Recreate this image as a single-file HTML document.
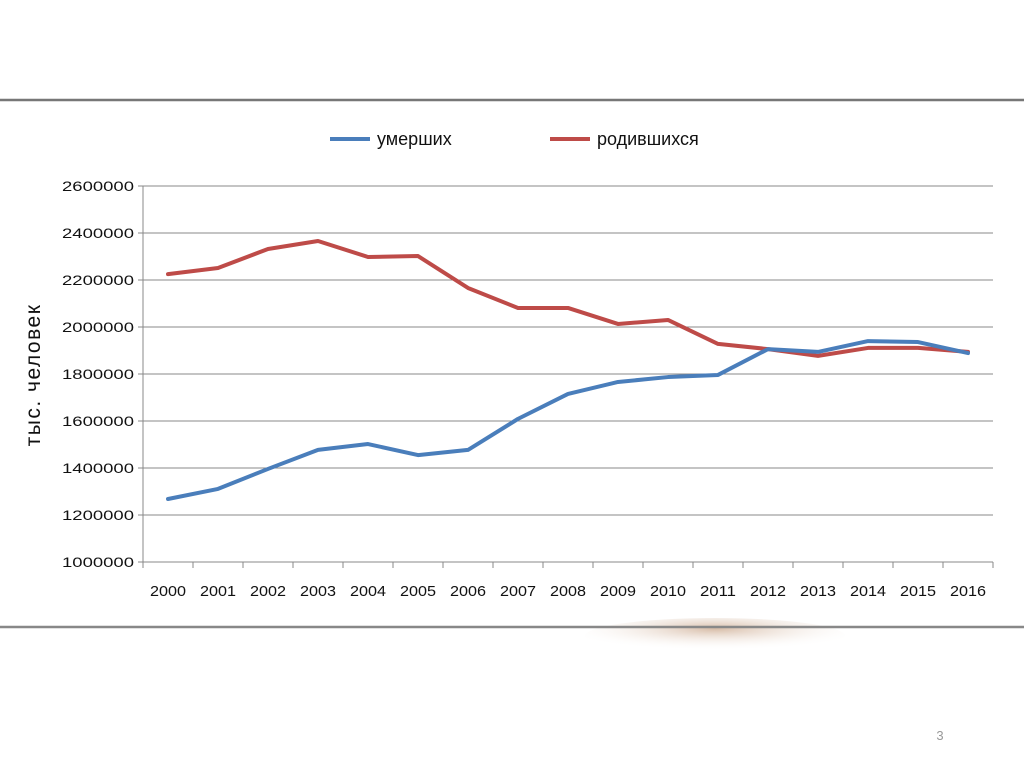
<!DOCTYPE html>
<html><head><meta charset="utf-8"><style>
body{margin:0;background:#fff;width:1024px;height:767px;overflow:hidden;font-family:"Liberation Sans","DejaVu Sans",sans-serif}
</style></head><body>
<svg width="1024" height="767" xmlns="http://www.w3.org/2000/svg">
<defs><radialGradient id="sm" cx="0.5" cy="0.3" r="0.6"><stop offset="0" stop-color="#b07a50" stop-opacity="0.5"/><stop offset="1" stop-color="#fff" stop-opacity="0"/></radialGradient></defs>
<line x1="0" y1="100" x2="1024" y2="100" stroke="#777" stroke-width="2.5"/>
<ellipse cx="715" cy="636" rx="130" ry="18" fill="url(#sm)"/>
<line x1="0" y1="627" x2="1024" y2="627" stroke="#888" stroke-width="2.5"/>
<text x="940" y="740" font-size="13" fill="#999" text-anchor="middle">3</text>
<g id="chart"></g>
</svg>
<script>
const categories=["2000","2001","2002","2003","2004","2005","2006","2007","2008","2009","2010","2011","2012","2013","2014","2015","2016"];
const deaths=[1268000,1311000,1396000,1477000,1502000,1455000,1477000,1609000,1715000,1766000,1787000,1796000,1906000,1894000,1940000,1936000,1889000];
const births=[2225000,2251000,2332000,2366000,2298000,2302000,2166000,2081000,2081000,2013000,2030000,1928000,1906000,1877000,1911000,1911000,1894000];
const yTicks=[1000000,1200000,1400000,1600000,1800000,2000000,2200000,2400000,2600000];
const NS="http://www.w3.org/2000/svg";
const g=document.getElementById('chart');
const L=143,R=993,T=186,B=562,yMin=1000000,yMax=2600000;
const bw=(R-L)/categories.length;
const xS=i=>L+bw*(i+0.5);
const yS=v=>B-(v-yMin)/(yMax-yMin)*(B-T);
function mk(t,a){const e=document.createElementNS(NS,t);for(const k in a)e.setAttribute(k,a[k]);g.appendChild(e);return e;}
yTicks.forEach(v=>{
 const y=yS(v);
 const ln=mk('line',{x1:L-5,x2:R,y1:y,y2:y,stroke:'#8a8a8a','stroke-width':1});
 
 
 const t=mk('text',{x:L-9,y:y+5,'text-anchor':'end','font-size':14,fill:'#111',textLength:72,lengthAdjust:'spacingAndGlyphs'});
 t.textContent=v;
 
 
});
const ax=mk('line',{x1:L,x2:L,y1:T,y2:B,stroke:'#888','stroke-width':1});


categories.forEach((c,i)=>{
 const tk=mk('line',{x1:L+bw*i,x2:L+bw*i,y1:B,y2:B+6,stroke:'#888'});
 
 
 const t=mk('text',{x:xS(i),y:B+34,'text-anchor':'middle','font-size':15,fill:'#111',textLength:36,lengthAdjust:'spacingAndGlyphs'});
 t.textContent=c;
 
 
});
const tk2=mk('line',{x1:R,x2:R,y1:B,y2:B+6,stroke:'#888'});


function series(vals,col,name){
 const p=mk('polyline',{points:vals.map((v,i)=>xS(i)+','+yS(v)).join(' '),fill:'none',stroke:col,'stroke-width':4,'stroke-linejoin':'round','stroke-linecap':'round'});
 
 
}
series(births,'#be4b48','series-births');
series(deaths,'#4a7ebb','series-deaths');
const yt=mk('text',{x:0,y:0,transform:'translate(40,375) rotate(-90)','text-anchor':'middle','font-size':21,fill:'#111','letter-spacing':'1.5'});
yt.textContent='тыс. человек';


const l1=mk('line',{x1:330,x2:370,y1:139,y2:139,stroke:'#4a7ebb','stroke-width':4});


const lt1=mk('text',{x:377,y:145,'font-size':18,fill:'#111'});
lt1.textContent='умерших';


const l2=mk('line',{x1:550,x2:590,y1:139,y2:139,stroke:'#be4b48','stroke-width':4});


const lt2=mk('text',{x:597,y:145,'font-size':18,fill:'#111'});
lt2.textContent='родившихся';


</script>
</body></html>
